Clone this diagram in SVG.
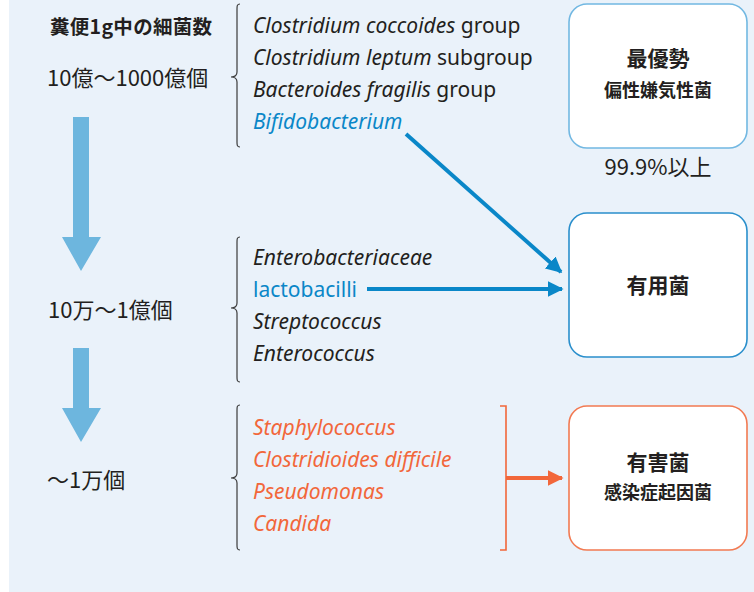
<svg xmlns="http://www.w3.org/2000/svg" width="754" height="592" viewBox="0 0 754 592">
<style>
.t{font-family:"Noto Sans","Noto Sans CJK JP",sans-serif;fill:#231f20}
.j{font-family:"Noto Sans CJK JP",sans-serif;fill:#231f20}
.b{font-weight:bold}
.i{font-style:italic}
.blue{fill:#0a87c8}
.org{fill:#f2673a}
.brace{fill:none;stroke:#3a3a3a;stroke-width:1.2}
.box{fill:#fff;stroke-width:1.6}
</style>
<defs>
<marker id="ab" viewBox="0 0 10 10" refX="9" refY="5" markerWidth="4" markerHeight="4" orient="auto" markerUnits="strokeWidth"><path d="M0,0L10,5L0,10z" fill="#0a87c8"/></marker>
<marker id="ao" viewBox="0 0 10 10" refX="9" refY="5" markerWidth="4" markerHeight="4" orient="auto" markerUnits="strokeWidth"><path d="M0,0L10,5L0,10z" fill="#f2673a"/></marker>
</defs>
<rect x="9" y="0" width="745" height="592" fill="#eaf2fa"/>

<g id="counts">
<text class="j b" x="50" y="34" font-size="19.5" letter-spacing="0.3">糞便1g中の細菌数</text>
<text class="j" x="47" y="86" font-size="22">10億〜1000億個</text>
<text class="j" x="48" y="318" font-size="22">10万〜1億個</text>
<text class="j" x="47" y="488" font-size="22">〜1万個</text>
</g>

<g id="downarrows" fill="#6db6de">
<path d="M73,117H89V237H101L81,271L62,237H73Z"/>
<path d="M73,348H89V408H101L81,442L62,408H73Z"/>
</g>

<g id="braces">
<path class="brace" d="M240,4C237,4 237,6 237,9V72C237,75 235,77 231,77C235,77 237,79 237,82V142C237,145 237,147 240,147"/>
<path class="brace" d="M240,237C237,237 237,239 237,242V303C237,306 235,308 231,308C235,308 237,310 237,313V377C237,380 237,382 240,382"/>
<path class="brace" d="M240,405C237,405 237,407 237,410V473C237,476 235,478 231,478C235,478 237,480 237,483V545C237,548 237,550 240,550"/>
</g>

<g id="list1" font-size="21">
<text class="t" x="253" y="33"><tspan class="i">Clostridium coccoides</tspan> group</text>
<text class="t" x="253" y="65"><tspan class="i">Clostridium leptum</tspan> subgroup</text>
<text class="t" x="253" y="97"><tspan class="i">Bacteroides fragilis</tspan> group</text>
<text class="t i blue" x="253" y="129">Bifidobacterium</text>
</g>
<g id="list2" font-size="21">
<text class="t i" x="253" y="265">Enterobacteriaceae</text>
<text class="t blue" x="253" y="297">lactobacilli</text>
<text class="t i" x="253" y="329">Streptococcus</text>
<text class="t i" x="253" y="361">Enterococcus</text>
</g>
<g id="list3" font-size="21">
<text class="t i org" x="253" y="435">Staphylococcus</text>
<text class="t i org" x="253" y="467">Clostridioides difficile</text>
<text class="t i org" x="253" y="499">Pseudomonas</text>
<text class="t i org" x="253" y="531">Candida</text>
</g>

<g id="connectors">
<line x1="406" y1="134" x2="561" y2="272" stroke="#0a87c8" stroke-width="4" marker-end="url(#ab)"/>
<line x1="367" y1="289" x2="562" y2="289" stroke="#0a87c8" stroke-width="4" marker-end="url(#ab)"/>
<path d="M500,406H506V550H500" fill="none" stroke="#f2673a" stroke-width="1.6"/>
<line x1="506" y1="478" x2="562" y2="478" stroke="#f2673a" stroke-width="4" marker-end="url(#ao)"/>
</g>

<g id="box1">
<rect class="box" x="569" y="4" width="178" height="144" rx="18" stroke="#72b8e2"/>
<text class="j b" x="658" y="66" font-size="21" text-anchor="middle">最優勢</text>
<text class="j b" x="658" y="97" font-size="18" text-anchor="middle">偏性嫌気性菌</text>
</g>
<text class="j" x="658" y="175" font-size="22" text-anchor="middle">99.9%以上</text>

<g id="box2">
<rect class="box" x="569" y="213" width="178" height="144" rx="18" stroke="#2a8fcc"/>
<text class="j b" x="658" y="293" font-size="21" text-anchor="middle">有用菌</text>
</g>

<g id="box3">
<rect class="box" x="569" y="406" width="178" height="144" rx="18" stroke="#f27a52"/>
<text class="j b" x="658" y="470" font-size="21" text-anchor="middle">有害菌</text>
<text class="j b" x="658" y="499" font-size="18" text-anchor="middle">感染症起因菌</text>
</g>
</svg>
